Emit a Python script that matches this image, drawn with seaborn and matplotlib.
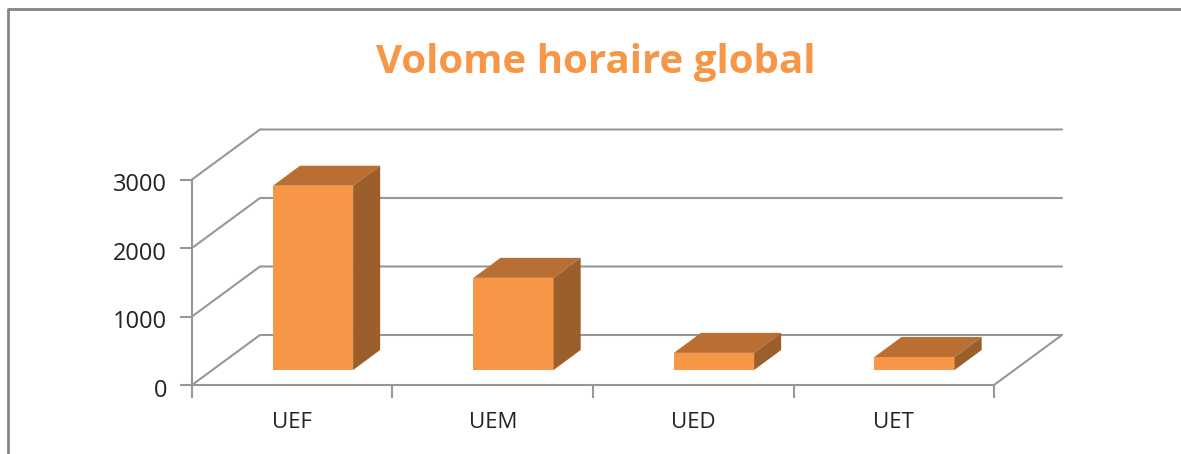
import matplotlib
matplotlib.use('Agg')
import matplotlib.pyplot as plt
from matplotlib.lines import Line2D
from matplotlib.transforms import ScaledTranslation
import seaborn as sns

categories = ['UEF', 'UEM', 'UED', 'UET']
volumes = [2690, 1345, 250, 190]
y_ticks = [0, 1000, 2000, 3000]

W, H = 1181, 454
# one category = 200.5 px, 1000 h = 68.5 px
FLOOR_X = 0.339   # depth of the 3d box, in category units
FLOOR_Y = 730
BAR_DX = 0.135    # bar side/top offset
BAR_DY = 292
BASE = 219        # bars stand a bit inside the floor
LEFT = -0.6035

ORANGE = '#F79646'
TOP = '#B96F33'
SIDE = '#9C5F2B'
GREY = '#979797'

sns.set_theme(style='white')
plt.rcParams['font.family'] = ['Open Sans', 'DejaVu Sans']

fig = plt.figure(figsize=(W / 100, H / 100), dpi=100)
ax = fig.add_axes([192 / W, (H - 385) / H, 802 / W, 205.5 / H])

sns.barplot(x=categories, y=volumes, color=ORANGE, saturation=1, width=0.4,
            bottom=BASE, ax=ax, linewidth=0, zorder=3)

right = LEFT + len(categories)
ax.set_xlim(LEFT, right)
ax.set_ylim(0, 3000)

# back wall + depth lines
for t in y_ticks:
    ax.plot([LEFT, LEFT + FLOOR_X, right + FLOOR_X],
            [t, t + FLOOR_Y, t + FLOOR_Y],
            color=GREY, lw=1.5, clip_on=False, zorder=1)
ax.plot([right, right + FLOOR_X], [0, FLOOR_Y], color=GREY, lw=1.5, clip_on=False, zorder=1)

# top and side faces of the bars
for i, v in enumerate(volumes):
    x0, x1 = i - 0.2, i + 0.2
    y0, y1 = BASE, BASE + v
    ax.fill([x0, x1, x1 + BAR_DX, x0 + BAR_DX], [y1, y1, y1 + BAR_DY, y1 + BAR_DY],
            color=TOP, lw=0, clip_on=False, zorder=3)
    ax.fill([x1, x1 + BAR_DX, x1 + BAR_DX, x1], [y0, y0 + BAR_DY, y1 + BAR_DY, y1],
            color=SIDE, lw=0, clip_on=False, zorder=3)

# labels sit mid-way between the tick marks, bars do not
ax.set_xticks([LEFT + i for i in range(len(categories) + 1)])
ax.set_xticklabels([])
for i, c in enumerate(categories):
    ax.text(LEFT + i + 0.5, -550, c, ha='center', va='center', fontsize=16, color='#222222')
ax.set_yticks(y_ticks)
ax.tick_params(axis='both', length=9, width=1.5, color=GREY, bottom=True, left=True)
ax.tick_params(axis='y', labelsize=17, labelcolor='#222222', pad=9)
for lab in ax.get_yticklabels():
    lab.set_transform(lab.get_transform() + ScaledTranslation(0, -2 / 72, fig.dpi_scale_trans))
ax.set_xlabel('')
ax.set_ylabel('')
sns.despine(ax=ax)
for s in ['left', 'bottom']:
    ax.spines[s].set_color(GREY)
    ax.spines[s].set_linewidth(1.5)
ax.patch.set_alpha(0)

fig.text(596 / W, 1 - 62 / H, 'Volome horaire global', color=ORANGE, fontsize=29,
         fontweight='bold', ha='center', va='center')

# chart frame
fig.add_artist(Line2D([8 / W, 8 / W, 1181 / W], [0, 1 - 9 / H, 1 - 9 / H], color='#858585', lw=2))

fig.savefig('out.png', dpi=100)
